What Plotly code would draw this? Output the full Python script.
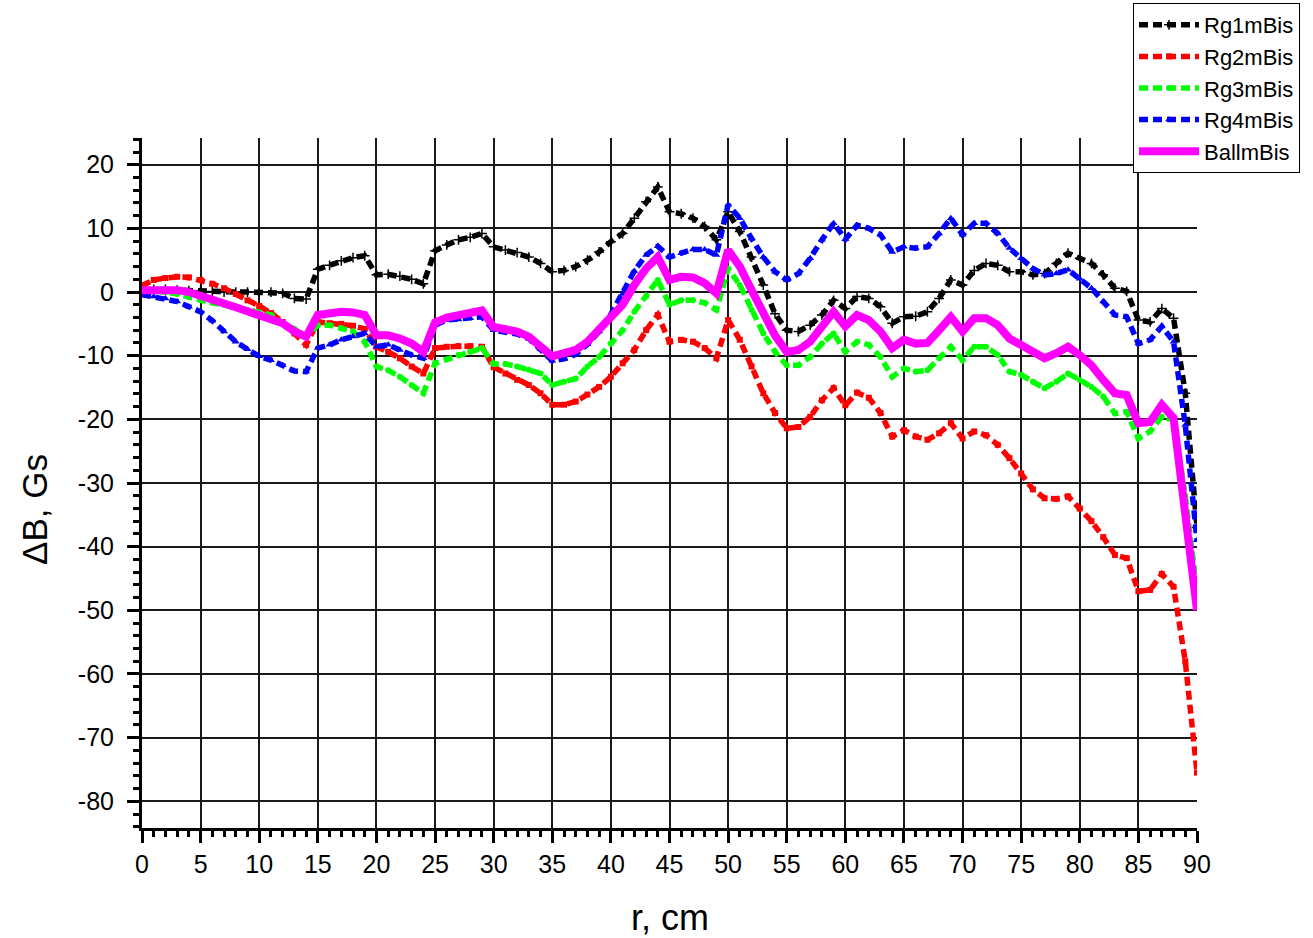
import plotly.graph_objects as go

r_cm = list(range(0, 91))

rg1 = [0.3, 0.4, 0.4, 0.3, 0.2, 0.2, 0.1, 0.0, 0.0, 0.0, 0.0, 0.0, -0.2, -1.0, -1.1,
       3.6, 4.2, 4.9, 5.4, 5.7, 2.7, 2.8, 2.5, 2.0, 1.3, 6.5, 7.4, 8.2, 8.6, 9.2,
       7.1, 6.6, 6.2, 5.5, 4.5, 3.2, 3.4, 4.0, 5.0, 6.3, 7.9, 9.2, 11.6, 14.2, 16.5,
       12.6, 12.3, 11.6, 10.3, 8.2, 12.6, 9.5, 5.5, 1.1, -3.4, -6.0, -6.2, -5.2, -3.6, -1.3,
       -2.6, -0.7, -1.0, -2.3, -4.9, -3.9, -3.8, -3.1, -1.0, 1.9, 1.1, 3.4, 4.5, 4.2, 3.2,
       3.2, 2.7, 2.9, 4.5, 6.1, 5.3, 4.5, 2.7, 0.6, 0.1, -4.4, -4.7, -2.6, -4.1, -15.9, -37.0]

rg2 = [1.0, 1.9, 2.2, 2.4, 2.3, 1.9, 1.3, 0.6, -0.3, -1.3, -2.2, -3.3, -4.7, -6.5, -8.3,
       -4.7, -4.9, -5.0, -5.3, -5.8, -8.6, -9.4, -10.4, -11.7, -12.8, -8.8, -8.6, -8.5, -8.5, -8.6,
       -11.8, -12.8, -13.8, -14.6, -15.9, -17.7, -17.7, -17.2, -16.1, -14.9, -13.3, -11.2, -9.1, -6.0, -3.6,
       -7.8, -7.5, -7.8, -8.8, -10.4, -4.4, -7.5, -11.7, -15.9, -19.0, -21.4, -21.2, -19.6, -17.0, -15.1,
       -17.8, -15.8, -16.6, -19.0, -22.7, -21.7, -22.7, -23.2, -22.2, -20.6, -23.0, -21.9, -22.5, -24.0, -26.1,
       -28.5, -31.0, -32.4, -32.5, -32.1, -34.0, -36.0, -38.5, -41.3, -41.8, -47.0, -46.8, -44.3, -46.3, -58.0, -75.5]

rg3 = [0.3, 0.2, 0.0, -0.3, -0.8, -1.3, -1.7, -2.0, -2.4, -2.8, -3.2, -3.6, -4.9, -5.8, -7.0,
       -5.2, -5.2, -5.7, -6.2, -7.8, -11.7, -12.3, -13.3, -14.6, -15.9, -11.2, -10.6, -9.9, -9.4, -8.8,
       -11.3, -11.3, -11.7, -12.2, -12.8, -14.6, -14.1, -13.6, -11.7, -10.2, -8.1, -6.0, -3.1, -0.7, 1.9,
       -2.0, -1.3, -1.3, -1.7, -2.8, 3.7, 1.1, -2.8, -6.5, -9.4, -11.5, -11.5, -10.2, -8.1, -6.5,
       -9.4, -7.8, -8.3, -10.2, -13.3, -12.0, -12.5, -12.3, -10.4, -8.6, -10.7, -8.6, -8.6, -9.9, -12.5,
       -13.0, -14.1, -15.1, -14.1, -12.8, -13.8, -14.9, -16.4, -19.1, -18.8, -23.0, -21.9, -19.6, -20.1, -32.0, -47.0]

rg4 = [-0.4, -0.7, -1.0, -1.5, -2.3, -3.1, -4.5, -6.2, -7.8, -9.0, -10.1, -10.7, -11.5, -12.4, -12.5,
       -8.8, -8.3, -7.5, -7.0, -6.5, -8.6, -8.3, -9.1, -9.9, -10.4, -5.2, -4.4, -4.3, -4.1, -3.9,
       -6.0, -6.2, -6.6, -7.3, -9.0, -10.8, -10.5, -9.8, -8.2, -6.2, -3.5, -0.3, 3.3, 5.8, 7.2,
       5.5, 6.1, 6.7, 6.7, 5.8, 13.7, 11.6, 8.4, 5.5, 3.2, 1.9, 2.9, 5.3, 8.2, 10.8,
       8.3, 10.5, 10.0, 9.0, 6.3, 7.1, 6.9, 7.1, 9.2, 11.6, 9.0, 10.8, 10.8, 9.2, 6.9,
       5.3, 3.7, 2.7, 2.9, 3.5, 2.1, 0.6, -1.5, -3.6, -3.9, -8.1, -7.5, -5.4, -7.8, -20.9, -39.0]

ball = [0.3, 0.4, 0.5, 0.3, 0.0, -0.5, -1.2, -1.8, -2.4, -3.0, -3.6, -4.1, -4.9, -6.2, -7.0,
        -3.6, -3.2, -3.1, -3.2, -3.6, -6.8, -6.8, -7.3, -8.1, -9.4, -4.8, -4.0, -3.6, -3.2, -2.9,
        -5.5, -5.7, -6.2, -7.0, -8.6, -10.1, -9.6, -9.1, -7.8, -6.0, -4.1, -2.0, 1.1, 3.7, 5.5,
        1.9, 2.4, 2.3, 1.4, -0.2, 6.6, 4.0, 0.3, -3.4, -6.8, -9.4, -9.1, -7.8, -5.4, -3.1,
        -5.4, -3.6, -4.4, -6.2, -8.8, -7.5, -8.1, -8.0, -6.0, -3.9, -6.2, -4.1, -4.1, -5.2, -7.3,
        -8.3, -9.6, -10.4, -9.6, -8.6, -9.9, -11.5, -13.8, -15.9, -16.2, -20.6, -20.4, -17.7, -19.8, -34.0, -50.0]

series_names = ["Rg1mBis", "Rg2mBis", "Rg3mBis", "Rg4mBis", "BallmBis"]

x_tickvals = list(range(0, 91, 5))
x_ticktext = [str(v) for v in x_tickvals]
y_tickvals = list(range(20, -81, -10))
y_ticktext = [str(v) for v in y_tickvals]

FONT = "Liberation Sans, Arial, sans-serif"

fig = go.Figure()

styles = [
    (rg1, "#000000", "cross-thin", 7),
    (rg2, "#FF0000", "square", 6),
    (rg3, "#00FF00", "circle", 6),
    (rg4, "#0000FF", "triangle-up", 7),
]
for (vals, color, sym, msize), name in zip(styles, series_names[:4]):
    fig.add_trace(go.Scatter(
        x=r_cm, y=vals, name=name, mode="lines+markers",
        line=dict(color=color, width=5.5, dash="9px,5px"),
        marker=dict(symbol=sym, size=msize, color=color,
                    line=dict(color=color, width=1.5 if sym == "cross-thin" else 0)),
    ))

fig.add_trace(go.Scatter(
    x=r_cm, y=ball, name=series_names[4], mode="lines",
    line=dict(color="#FF00FF", width=8),
))

axis_common = dict(
    showgrid=True, gridcolor="#1a1a1a", gridwidth=1.5,
    showline=True, linecolor="black", linewidth=3,
    ticks="outside", ticklen=12, tickwidth=3, tickcolor="black",
    zeroline=False, mirror=False,
    tickfont=dict(family=FONT, size=25, color="black"),
)

fig.update_xaxes(
    range=[0, 90], tickvals=x_tickvals, ticktext=x_ticktext,
    minor=dict(dtick=1, ticklen=6, tickwidth=2.5, ticks="outside", tickcolor="black", showgrid=False),
    ticklabelstandoff=0,
    **axis_common,
)
fig.update_yaxes(
    range=[-84.2, 24.2], tickvals=y_tickvals, ticktext=y_ticktext,
    minor=dict(dtick=2, tick0=0, ticklen=6, tickwidth=2.5, ticks="outside", tickcolor="black", showgrid=False),
    ticklabelstandoff=8,
    **axis_common,
)

fig.update_layout(
    width=1313, height=938,
    margin=dict(l=142, r=116, t=138, b=110, autoexpand=False),
    paper_bgcolor="white", plot_bgcolor="white",
    font=dict(family=FONT, color="black"),
    showlegend=True,
    legend=dict(
        xref="container", yref="container",
        x=1133 / 1313, y=1 - 3 / 938, xanchor="left", yanchor="top",
        bordercolor="black", borderwidth=1, bgcolor="white",
        font=dict(family=FONT, size=22, color="black"),
        itemwidth=60, tracegroupgap=0,
    ),
    annotations=[
        dict(text="r, cm", xref="paper", yref="paper", x=0.5, y=-0.13,
             xanchor="center", yanchor="middle", showarrow=False,
             font=dict(family=FONT, size=36, color="black")),
        dict(text="ΔB, Gs", xref="paper", yref="paper", x=-0.1014, y=0.461,
             xanchor="center", yanchor="middle", showarrow=False, textangle=-90,
             font=dict(family=FONT, size=35, color="black")),
    ],
)

fig.write_html("out.html")
